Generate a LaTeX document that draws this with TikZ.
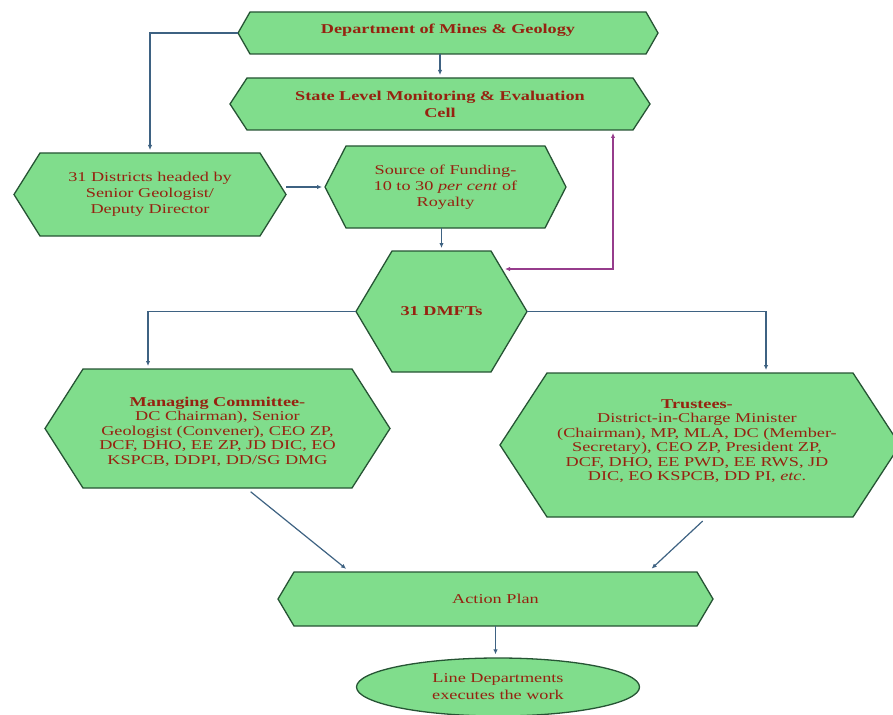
\documentclass[tikz,border=0pt]{standalone}
\usepackage{fontspec}
\setmainfont[FakeStretch=1.35]{Liberation Serif}
\usepackage{xcolor}
\usepackage{tikz}
\usetikzlibrary{arrows.meta,calc,positioning,shapes.geometric}
\definecolor{boxgreen}{RGB}{128,221,140}
\definecolor{boxedge}{RGB}{38,84,52}
\definecolor{labelred}{RGB}{150,34,16}
\definecolor{flowblue}{RGB}{62,98,130}
\definecolor{linkpurple}{RGB}{150,60,140}
\tikzset{
  hexframe/.style={rectangle, draw=none, inner sep=0pt, outer sep=0pt},
  hexbody/.style={fill=boxgreen, draw=boxedge, line width=1.3pt},
  boxtext/.style={inner sep=0pt, align=center, text=labelred, font=\fontsize{13.5}{16}\selectfont},
  heading/.style={font=\fontsize{13.5}{17}\selectfont\bfseries},
  dense/.style={font=\fontsize{13.5}{14.5}\selectfont},
  endbox/.style={ellipse, fill=boxgreen, draw=boxedge, line width=1.3pt, boxtext, font=\fontsize{13.5}{17}\selectfont},
  flow/.style={draw=flowblue, line width=1.2pt, -{Latex[length=5pt,width=4.5pt]}, shorten >=3pt},
  backlink/.style={draw=linkpurple, line width=1.2pt, {Latex[length=5pt,width=4.5pt]}-{Latex[length=5pt,width=4.5pt]}, shorten <=3pt}
}
\newcommand{\HexBox}[7][]{% #1=text options, #2=name, #3=centre, #4=width, #5=height, #6=tip depth, #7=text
  \node[hexframe, minimum width=#4pt, minimum height=#5pt] (#2) at (#3) {};
  \filldraw[hexbody] (#2.west) -- ([xshift=#6pt]#2.north west) -- ([xshift=-#6pt]#2.north east)
    -- (#2.east) -- ([xshift=-#6pt]#2.south east) -- ([xshift=#6pt]#2.south west) -- cycle;
  \node[boxtext, #1] (#2-txt) at (#2) {#7};
}

\begin{document}
\begin{tikzpicture}[x=1pt, y=-1pt]
  \useasboundingbox (0,0) rectangle (893,714);
  % Department and state cell
  \HexBox[heading, yshift=3pt]{dept}{448,33}{420}{42}{12}{Department of Mines \& Geology}
  \HexBox[heading]{slm}{440,104}{420}{52}{17}{State Level Monitoring \& Evaluation\\Cell}
  % Districts and funding
  \HexBox{dist}{150,194.5}{272}{83}{26}{31 Districts headed by\\Senior Geologist/\\Deputy Director}
  \HexBox{src}{445.5,187}{241}{82}{21}{Source of Funding-\\10 to 30 \textit{per cent} of\\Royalty}
  % Trusts
  \HexBox[heading]{dmft}{441.5,311.5}{171}{121}{36}{31 DMFTs}
  \HexBox[dense, yshift=-3pt]{mc}{217.5,428.5}{345}{119}{38}{\textbf{Managing Committee-}\\DC Chairman), Senior\\Geologist (Convener), CEO ZP,\\DCF, DHO, EE ZP, JD DIC, EO\\KSPCB, DDPI, DD/SG DMG}
  \HexBox[dense, xshift=-3pt, yshift=4pt]{tr}{700,445}{400}{144}{47}{\textbf{Trustees-}\\District-in-Charge Minister\\(Chairman), MP, MLA, DC (Member-\\Secretary), CEO ZP, President ZP,\\DCF, DHO, EE PWD, EE RWS, JD\\DIC, EO KSPCB, DD PI, \textit{etc}.}
  % Plan and execution
  \HexBox{ap}{495.5,599}{435}{54}{16}{Action Plan}
  \node[endbox, minimum width=283pt, minimum height=58pt] (le) at (498,687) {Line Departments\\executes the work};
  % Connectors
  \draw[flow] (dept.west) -| (dist.north);
  \draw[flow] (dept.south -| slm.north) -- (slm.north);
  \draw[flow] (dist.east |- src.west) -- (src.west);
  \draw[flow] (src.south -| dmft.north) -- (dmft.north);
  \draw[backlink] ([xshift=173pt]slm.south) |- ([xshift=-22pt,yshift=-18pt]dmft.north east);
  \draw[flow] (dmft.west) -| ([xshift=103pt]mc.north west);
  \draw[flow] (dmft.east) -| ([xshift=266pt]tr.north west);
  \draw[flow, shorten <=6pt, shorten >=5pt] ([xshift=201pt]mc.south west) -- ([xshift=72pt]ap.north west);
  \draw[flow, shorten <=6pt, shorten >=5pt] ([xshift=207pt]tr.south west) -- ([xshift=370pt]ap.north west);
  \draw[flow] (ap.south) -- (ap.south |- le.north);
\end{tikzpicture}
\end{document}
